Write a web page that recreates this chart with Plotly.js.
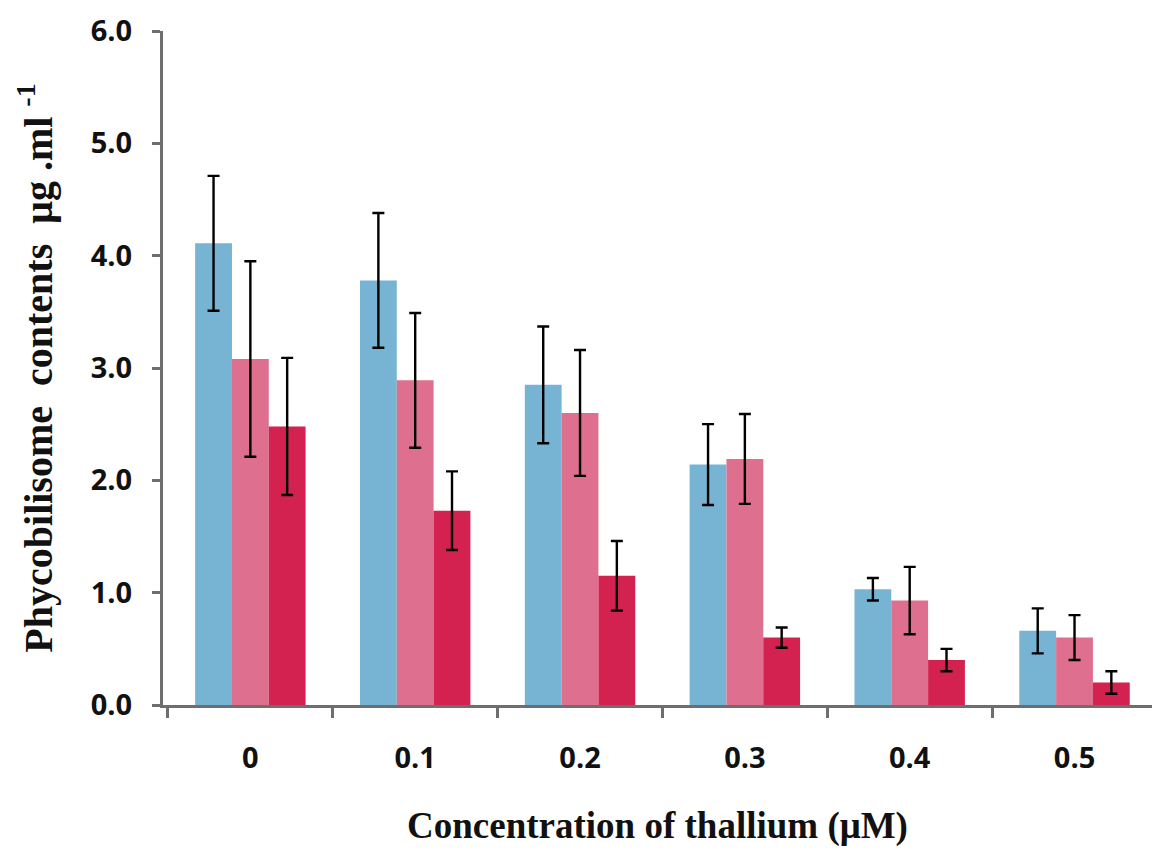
<!DOCTYPE html>
<html>
<head>
<meta charset="utf-8">
<script src="https://cdn.plot.ly/plotly-3.0.1.min.js"></script>
<style>html,body{margin:0;padding:0;background:#fff;}#chart{width:1152px;height:851px;}</style>
</head>
<body>
<div id="chart"></div>
<script>
const categories = ["0", "0.1", "0.2", "0.3", "0.4", "0.5"];
const seriesA = [4.11, 3.78, 2.85, 2.14, 1.03, 0.66];
const errorsA = [0.60, 0.60, 0.52, 0.36, 0.10, 0.20];
const seriesB = [3.08, 2.89, 2.60, 2.19, 0.93, 0.60];
const errorsB = [0.87, 0.60, 0.56, 0.40, 0.30, 0.20];
const seriesC = [2.48, 1.73, 1.15, 0.60, 0.40, 0.20];
const errorsC = [0.61, 0.35, 0.31, 0.09, 0.10, 0.10];

const colors = ["#77b4d4", "#de6f8e", "#d3224f"];

function mk(y, err, color) {
  return {
    type: "bar", x: categories, y: y,
    marker: {color: color},
    error_y: {type: "data", array: err, visible: true, color: "#000", thickness: 2.4, width: 6},
    showlegend: false, hoverinfo: "none"
  };
}

const data = [mk(seriesA, errorsA, colors[0]), mk(seriesB, errorsB, colors[1]), mk(seriesC, errorsC, colors[2])];

const layout = {
  width: 1152, height: 851,
  margin: {l: 163, r: 0, t: 31, b: 146},
  paper_bgcolor: "#fff", plot_bgcolor: "#fff",
  barmode: "group", bargap: 0.33, bargroupgap: 0,
  xaxis: {
    type: "category", range: [-0.53, 5.47],
    showline: true, linecolor: "#6e6e6e", linewidth: 3,
    ticks: "outside", tickson: "boundaries", ticklen: 10, tickwidth: 3, tickcolor: "#6e6e6e",
    showgrid: false, zeroline: false,
    tickfont: {family: "Open Sans", size: 29, color: "#111", weight: "bold"},
    ticklabelstandoff: 25,
    title: {text: "<b>Concentration of thallium (μM)</b>", font: {family: "Liberation Serif", size: 37, color: "#111"}, standoff: 38}
  },
  yaxis: {
    range: [0, 6], dtick: 1, tickformat: ".1f",
    showline: true, linecolor: "#6e6e6e", linewidth: 3,
    ticks: "outside", ticklen: 8, tickwidth: 3, tickcolor: "#6e6e6e",
    showgrid: false, zeroline: false,
    tickfont: {family: "Open Sans", size: 29, color: "#111", weight: "bold"},
    ticklabelstandoff: 14,
    title: {text: "<b>Phycobilisome\u00a0\u00a0contents\u00a0\u00a0μg\u00a0.ml\u00a0<sup>-1</sup></b>", font: {family: "Liberation Serif", size: 40, color: "#111"}, standoff: 26}
  }
};

Plotly.newPlot("chart", data, layout, {staticPlot: true, displayModeBar: false});
</script>
</body>
</html>
